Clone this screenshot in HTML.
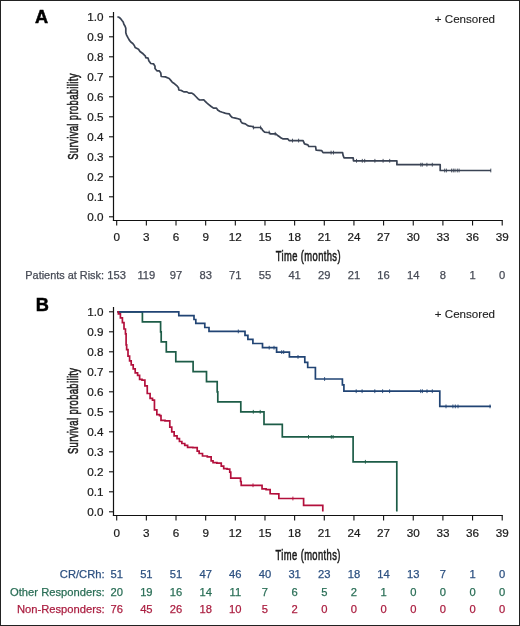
<!DOCTYPE html>
<html><head><meta charset="utf-8"><style>
html,body{margin:0;padding:0;background:#fff;}
svg{display:block;will-change:transform;}
text{font-family:"Liberation Sans", sans-serif;}
.tk{font-size:11.7px;fill:#1a1a1a;stroke:#1a1a1a;stroke-width:0.22px;}
.pl{font-size:18.2px;font-weight:bold;fill:#000;stroke:#000;stroke-width:0.5px;}
.cen{font-size:11.6px;fill:#222;stroke:#222;stroke-width:0.12px;}
.ax{font-size:14.2px;fill:#1a1a1a;stroke:#1a1a1a;stroke-width:0.55px;}
.rk{font-size:11.2px;stroke-width:0.25px;}
</style></head><body>
<svg width="520" height="626" viewBox="0 0 520 626">
<rect x="0.5" y="0.5" width="519" height="625" fill="#fff" stroke="#222" stroke-width="1"/>
<line x1="113.5" y1="12" x2="113.5" y2="221" stroke="#111" stroke-width="1.2"/>
<line x1="112.9" y1="220.5" x2="502.81" y2="220.5" stroke="#111" stroke-width="1.2"/>
<line x1="109" y1="216.8" x2="113.5" y2="216.8" stroke="#111" stroke-width="1.1"/>
<text x="103.6" y="220.8" text-anchor="end" class="tk">0.0</text>
<line x1="109" y1="196.8" x2="113.5" y2="196.8" stroke="#111" stroke-width="1.1"/>
<text x="103.6" y="200.8" text-anchor="end" class="tk">0.1</text>
<line x1="109" y1="176.8" x2="113.5" y2="176.8" stroke="#111" stroke-width="1.1"/>
<text x="103.6" y="180.8" text-anchor="end" class="tk">0.2</text>
<line x1="109" y1="156.8" x2="113.5" y2="156.8" stroke="#111" stroke-width="1.1"/>
<text x="103.6" y="160.8" text-anchor="end" class="tk">0.3</text>
<line x1="109" y1="136.8" x2="113.5" y2="136.8" stroke="#111" stroke-width="1.1"/>
<text x="103.6" y="140.8" text-anchor="end" class="tk">0.4</text>
<line x1="109" y1="116.8" x2="113.5" y2="116.8" stroke="#111" stroke-width="1.1"/>
<text x="103.6" y="120.8" text-anchor="end" class="tk">0.5</text>
<line x1="109" y1="96.8" x2="113.5" y2="96.8" stroke="#111" stroke-width="1.1"/>
<text x="103.6" y="100.8" text-anchor="end" class="tk">0.6</text>
<line x1="109" y1="76.8" x2="113.5" y2="76.8" stroke="#111" stroke-width="1.1"/>
<text x="103.6" y="80.8" text-anchor="end" class="tk">0.7</text>
<line x1="109" y1="56.8" x2="113.5" y2="56.8" stroke="#111" stroke-width="1.1"/>
<text x="103.6" y="60.8" text-anchor="end" class="tk">0.8</text>
<line x1="109" y1="36.8" x2="113.5" y2="36.8" stroke="#111" stroke-width="1.1"/>
<text x="103.6" y="40.8" text-anchor="end" class="tk">0.9</text>
<line x1="109" y1="16.8" x2="113.5" y2="16.8" stroke="#111" stroke-width="1.1"/>
<text x="103.6" y="20.8" text-anchor="end" class="tk">1.0</text>
<line x1="116.7" y1="220.5" x2="116.7" y2="225.5" stroke="#111" stroke-width="1.1"/>
<text x="116.7" y="240.8" text-anchor="middle" class="tk">0</text>
<line x1="146.36" y1="220.5" x2="146.36" y2="225.5" stroke="#111" stroke-width="1.1"/>
<text x="146.36" y="240.8" text-anchor="middle" class="tk">3</text>
<line x1="176.01" y1="220.5" x2="176.01" y2="225.5" stroke="#111" stroke-width="1.1"/>
<text x="176.01" y="240.8" text-anchor="middle" class="tk">6</text>
<line x1="205.67" y1="220.5" x2="205.67" y2="225.5" stroke="#111" stroke-width="1.1"/>
<text x="205.67" y="240.8" text-anchor="middle" class="tk">9</text>
<line x1="235.32" y1="220.5" x2="235.32" y2="225.5" stroke="#111" stroke-width="1.1"/>
<text x="235.32" y="240.8" text-anchor="middle" class="tk">12</text>
<line x1="264.98" y1="220.5" x2="264.98" y2="225.5" stroke="#111" stroke-width="1.1"/>
<text x="264.98" y="240.8" text-anchor="middle" class="tk">15</text>
<line x1="294.63" y1="220.5" x2="294.63" y2="225.5" stroke="#111" stroke-width="1.1"/>
<text x="294.63" y="240.8" text-anchor="middle" class="tk">18</text>
<line x1="324.29" y1="220.5" x2="324.29" y2="225.5" stroke="#111" stroke-width="1.1"/>
<text x="324.29" y="240.8" text-anchor="middle" class="tk">21</text>
<line x1="353.94" y1="220.5" x2="353.94" y2="225.5" stroke="#111" stroke-width="1.1"/>
<text x="353.94" y="240.8" text-anchor="middle" class="tk">24</text>
<line x1="383.59" y1="220.5" x2="383.59" y2="225.5" stroke="#111" stroke-width="1.1"/>
<text x="383.59" y="240.8" text-anchor="middle" class="tk">27</text>
<line x1="413.25" y1="220.5" x2="413.25" y2="225.5" stroke="#111" stroke-width="1.1"/>
<text x="413.25" y="240.8" text-anchor="middle" class="tk">30</text>
<line x1="442.9" y1="220.5" x2="442.9" y2="225.5" stroke="#111" stroke-width="1.1"/>
<text x="442.9" y="240.8" text-anchor="middle" class="tk">33</text>
<line x1="472.56" y1="220.5" x2="472.56" y2="225.5" stroke="#111" stroke-width="1.1"/>
<text x="472.56" y="240.8" text-anchor="middle" class="tk">36</text>
<line x1="502.21" y1="220.5" x2="502.21" y2="225.5" stroke="#111" stroke-width="1.1"/>
<text x="502.21" y="240.8" text-anchor="middle" class="tk">39</text>
<path d="M117.4 16.8 L118.9 17.3 L120.5 18.5 L122 20.5 L123.2 22 L123.9 24.3 L125.1 26.2 L125.8 28.2 L125.8 32.8 L126.6 35.1 L127.8 37.4 L129.3 40.1 L130.8 42 L132.8 43.5 L134.3 45.5 L135.1 47.4 L136.6 48.2 L138.5 49.2 L140 51.5 L143.1 53.8 L145.4 56.2 L145.8 57.7 L148.1 58.1 L148.8 60.8 L150.8 63.5 L153.5 63.8 L155 66.2 L155 68.5 L156.9 70.8 L159.2 70.8 L160.8 73.1 L161.2 76.5 L165.4 76.9 L169.2 78.5 L170.8 80.4 L172.3 82.3 L174.6 83.8 L177.3 86.2 L178.5 87.7 L178.8 90 L181.2 90.4 L182.7 91.2 L184.2 91.9 L186.9 91.9 L188.8 93.1 L191.9 93.1 L193.5 94.2 L195.8 96.5 L198.1 98.8 L199.6 100 L203.8 99.8 L205 101.2 L206.5 102.7 L208.8 104.6 L211.2 106.5 L213.5 108.1 L216.5 108.1 L217.7 110 L220 111.5 L222.3 112.3 L225 113.1 L227.3 113.7 L229.2 113.8 L230.8 116.2 L232.3 117.5 L235.4 118.1 L238.1 118.8 L240.4 119.6 L240.8 121.5 L242.3 123.1 L245.4 123.8 L247.7 125.6 L249.6 126.2 L252.7 126.5 L253.5 127.6 L255.8 127.5 L260.4 127.5 L261.9 128.8 L262.7 130.4 L264.6 132.1 L267.3 132.5 L269.2 132.5 L270.4 133.8 L275.8 133.8 L277.3 135.2 L279.2 136.5 L281.2 138.1 L282.7 138.8 L287.7 138.8 L289.1 140.6 L303.1 140.6 L304.5 143.9 L307.9 144.9 L308.8 146.5 L315.6 146.5 L316.1 150.2 L321.8 150.7 L323 152.6 L342.6 152.6 L343.1 155.4 L344 157.8 L353.2 157.8 L353.5 160.8 L396.9 160.8 L396.9 164.7 L440.2 164.7 L440.2 170.5 L491 170.5" fill="none" stroke="#3a4354" stroke-width="1.7" stroke-linejoin="round"/>
<line x1="356.5" y1="158.9" x2="356.5" y2="162.7" stroke="#3a4354" stroke-width="0.9"/>
<line x1="362.3" y1="158.9" x2="362.3" y2="162.7" stroke="#3a4354" stroke-width="0.9"/>
<line x1="364.7" y1="158.9" x2="364.7" y2="162.7" stroke="#3a4354" stroke-width="0.9"/>
<line x1="374.9" y1="158.9" x2="374.9" y2="162.7" stroke="#3a4354" stroke-width="0.9"/>
<line x1="383.1" y1="158.9" x2="383.1" y2="162.7" stroke="#3a4354" stroke-width="0.9"/>
<line x1="389.7" y1="158.9" x2="389.7" y2="162.7" stroke="#3a4354" stroke-width="0.9"/>
<line x1="331.1" y1="150.7" x2="331.1" y2="154.5" stroke="#3a4354" stroke-width="0.9"/>
<line x1="333.5" y1="150.7" x2="333.5" y2="154.5" stroke="#3a4354" stroke-width="0.9"/>
<line x1="253.4" y1="125.6" x2="253.4" y2="129.4" stroke="#3a4354" stroke-width="0.9"/>
<line x1="260.6" y1="125.6" x2="260.6" y2="129.4" stroke="#3a4354" stroke-width="0.9"/>
<line x1="269.2" y1="130.6" x2="269.2" y2="134.4" stroke="#3a4354" stroke-width="0.9"/>
<line x1="275.2" y1="131.9" x2="275.2" y2="135.7" stroke="#3a4354" stroke-width="0.9"/>
<line x1="292.5" y1="138.7" x2="292.5" y2="142.5" stroke="#3a4354" stroke-width="0.9"/>
<line x1="298.6" y1="138.7" x2="298.6" y2="142.5" stroke="#3a4354" stroke-width="0.9"/>
<line x1="420.8" y1="162.8" x2="420.8" y2="166.6" stroke="#3a4354" stroke-width="0.9"/>
<line x1="422.3" y1="162.8" x2="422.3" y2="166.6" stroke="#3a4354" stroke-width="0.9"/>
<line x1="426.9" y1="162.8" x2="426.9" y2="166.6" stroke="#3a4354" stroke-width="0.9"/>
<line x1="432.3" y1="162.8" x2="432.3" y2="166.6" stroke="#3a4354" stroke-width="0.9"/>
<line x1="444.7" y1="168.6" x2="444.7" y2="172.4" stroke="#3a4354" stroke-width="0.9"/>
<line x1="446.4" y1="168.6" x2="446.4" y2="172.4" stroke="#3a4354" stroke-width="0.9"/>
<line x1="451.6" y1="168.6" x2="451.6" y2="172.4" stroke="#3a4354" stroke-width="0.9"/>
<line x1="453.3" y1="168.6" x2="453.3" y2="172.4" stroke="#3a4354" stroke-width="0.9"/>
<line x1="455" y1="168.6" x2="455" y2="172.4" stroke="#3a4354" stroke-width="0.9"/>
<line x1="457.3" y1="168.6" x2="457.3" y2="172.4" stroke="#3a4354" stroke-width="0.9"/>
<line x1="459.1" y1="168.6" x2="459.1" y2="172.4" stroke="#3a4354" stroke-width="0.9"/>
<line x1="490.8" y1="168.6" x2="490.8" y2="172.4" stroke="#3a4354" stroke-width="0.9"/>
<text x="35" y="22.6" class="pl">A</text>
<text x="434.8" y="22.5" class="cen">+ Censored</text>
<text transform="translate(78.2 116.4) rotate(-90) scale(0.66 1)" text-anchor="middle" class="ax" letter-spacing="0.6">Survival probability</text>
<text transform="translate(275.8 260.8) scale(0.66 1)" class="ax" letter-spacing="0.6">Time (months)</text>
<text x="104" y="279.3" text-anchor="end" class="rk" style="font-size:10.9px" fill="#474b56" stroke="#474b56">Patients at Risk:</text>
<text x="116.7" y="279.3" text-anchor="middle" class="rk" fill="#474b56" stroke="#474b56">153</text>
<text x="146.36" y="279.3" text-anchor="middle" class="rk" fill="#474b56" stroke="#474b56">119</text>
<text x="176.01" y="279.3" text-anchor="middle" class="rk" fill="#474b56" stroke="#474b56">97</text>
<text x="205.67" y="279.3" text-anchor="middle" class="rk" fill="#474b56" stroke="#474b56">83</text>
<text x="235.32" y="279.3" text-anchor="middle" class="rk" fill="#474b56" stroke="#474b56">71</text>
<text x="264.98" y="279.3" text-anchor="middle" class="rk" fill="#474b56" stroke="#474b56">55</text>
<text x="294.63" y="279.3" text-anchor="middle" class="rk" fill="#474b56" stroke="#474b56">41</text>
<text x="324.29" y="279.3" text-anchor="middle" class="rk" fill="#474b56" stroke="#474b56">29</text>
<text x="353.94" y="279.3" text-anchor="middle" class="rk" fill="#474b56" stroke="#474b56">21</text>
<text x="383.59" y="279.3" text-anchor="middle" class="rk" fill="#474b56" stroke="#474b56">16</text>
<text x="413.25" y="279.3" text-anchor="middle" class="rk" fill="#474b56" stroke="#474b56">14</text>
<text x="442.9" y="279.3" text-anchor="middle" class="rk" fill="#474b56" stroke="#474b56">8</text>
<text x="472.56" y="279.3" text-anchor="middle" class="rk" fill="#474b56" stroke="#474b56">1</text>
<text x="502.21" y="279.3" text-anchor="middle" class="rk" fill="#474b56" stroke="#474b56">0</text>
<line x1="113.5" y1="307" x2="113.5" y2="516" stroke="#111" stroke-width="1.2"/>
<line x1="112.9" y1="515.5" x2="502.81" y2="515.5" stroke="#111" stroke-width="1.2"/>
<line x1="109" y1="511.8" x2="113.5" y2="511.8" stroke="#111" stroke-width="1.1"/>
<text x="103.6" y="515.8" text-anchor="end" class="tk">0.0</text>
<line x1="109" y1="491.8" x2="113.5" y2="491.8" stroke="#111" stroke-width="1.1"/>
<text x="103.6" y="495.8" text-anchor="end" class="tk">0.1</text>
<line x1="109" y1="471.8" x2="113.5" y2="471.8" stroke="#111" stroke-width="1.1"/>
<text x="103.6" y="475.8" text-anchor="end" class="tk">0.2</text>
<line x1="109" y1="451.8" x2="113.5" y2="451.8" stroke="#111" stroke-width="1.1"/>
<text x="103.6" y="455.8" text-anchor="end" class="tk">0.3</text>
<line x1="109" y1="431.8" x2="113.5" y2="431.8" stroke="#111" stroke-width="1.1"/>
<text x="103.6" y="435.8" text-anchor="end" class="tk">0.4</text>
<line x1="109" y1="411.8" x2="113.5" y2="411.8" stroke="#111" stroke-width="1.1"/>
<text x="103.6" y="415.8" text-anchor="end" class="tk">0.5</text>
<line x1="109" y1="391.8" x2="113.5" y2="391.8" stroke="#111" stroke-width="1.1"/>
<text x="103.6" y="395.8" text-anchor="end" class="tk">0.6</text>
<line x1="109" y1="371.8" x2="113.5" y2="371.8" stroke="#111" stroke-width="1.1"/>
<text x="103.6" y="375.8" text-anchor="end" class="tk">0.7</text>
<line x1="109" y1="351.8" x2="113.5" y2="351.8" stroke="#111" stroke-width="1.1"/>
<text x="103.6" y="355.8" text-anchor="end" class="tk">0.8</text>
<line x1="109" y1="331.8" x2="113.5" y2="331.8" stroke="#111" stroke-width="1.1"/>
<text x="103.6" y="335.8" text-anchor="end" class="tk">0.9</text>
<line x1="109" y1="311.8" x2="113.5" y2="311.8" stroke="#111" stroke-width="1.1"/>
<text x="103.6" y="315.8" text-anchor="end" class="tk">1.0</text>
<line x1="116.7" y1="515.5" x2="116.7" y2="520.5" stroke="#111" stroke-width="1.1"/>
<text x="116.7" y="536.6" text-anchor="middle" class="tk">0</text>
<line x1="146.36" y1="515.5" x2="146.36" y2="520.5" stroke="#111" stroke-width="1.1"/>
<text x="146.36" y="536.6" text-anchor="middle" class="tk">3</text>
<line x1="176.01" y1="515.5" x2="176.01" y2="520.5" stroke="#111" stroke-width="1.1"/>
<text x="176.01" y="536.6" text-anchor="middle" class="tk">6</text>
<line x1="205.67" y1="515.5" x2="205.67" y2="520.5" stroke="#111" stroke-width="1.1"/>
<text x="205.67" y="536.6" text-anchor="middle" class="tk">9</text>
<line x1="235.32" y1="515.5" x2="235.32" y2="520.5" stroke="#111" stroke-width="1.1"/>
<text x="235.32" y="536.6" text-anchor="middle" class="tk">12</text>
<line x1="264.98" y1="515.5" x2="264.98" y2="520.5" stroke="#111" stroke-width="1.1"/>
<text x="264.98" y="536.6" text-anchor="middle" class="tk">15</text>
<line x1="294.63" y1="515.5" x2="294.63" y2="520.5" stroke="#111" stroke-width="1.1"/>
<text x="294.63" y="536.6" text-anchor="middle" class="tk">18</text>
<line x1="324.29" y1="515.5" x2="324.29" y2="520.5" stroke="#111" stroke-width="1.1"/>
<text x="324.29" y="536.6" text-anchor="middle" class="tk">21</text>
<line x1="353.94" y1="515.5" x2="353.94" y2="520.5" stroke="#111" stroke-width="1.1"/>
<text x="353.94" y="536.6" text-anchor="middle" class="tk">24</text>
<line x1="383.59" y1="515.5" x2="383.59" y2="520.5" stroke="#111" stroke-width="1.1"/>
<text x="383.59" y="536.6" text-anchor="middle" class="tk">27</text>
<line x1="413.25" y1="515.5" x2="413.25" y2="520.5" stroke="#111" stroke-width="1.1"/>
<text x="413.25" y="536.6" text-anchor="middle" class="tk">30</text>
<line x1="442.9" y1="515.5" x2="442.9" y2="520.5" stroke="#111" stroke-width="1.1"/>
<text x="442.9" y="536.6" text-anchor="middle" class="tk">33</text>
<line x1="472.56" y1="515.5" x2="472.56" y2="520.5" stroke="#111" stroke-width="1.1"/>
<text x="472.56" y="536.6" text-anchor="middle" class="tk">36</text>
<line x1="502.21" y1="515.5" x2="502.21" y2="520.5" stroke="#111" stroke-width="1.1"/>
<text x="502.21" y="536.6" text-anchor="middle" class="tk">39</text>
<text x="35.8" y="310.9" class="pl">B</text>
<text x="434.8" y="317.6" class="cen">+ Censored</text>
<text transform="translate(78.2 410.8) rotate(-90) scale(0.66 1)" text-anchor="middle" class="ax" letter-spacing="0.6">Survival probability</text>
<text transform="translate(275.6 559.6) scale(0.66 1)" class="ax" letter-spacing="0.6">Time (months)</text>
<path d="M117.4 311.8 H142.4 V321.8 H160.6 V331.8 H161.2 V341.8 H166.3 V351.8 H175.8 V361.7 H193.1 V371.7 H206.5 V381.7 H217.2 V391.8 H217.8 V401.8 H240.8 V411.8 H264 V424.3 H282.3 V436.9 H353.1 V461.8 H396.8 V511.6" fill="none" stroke="#1d5c47" stroke-width="1.7" stroke-linejoin="miter"/>
<line x1="253.3" y1="409.9" x2="253.3" y2="413.7" stroke="#1d5c47" stroke-width="0.9"/>
<line x1="260.2" y1="409.9" x2="260.2" y2="413.7" stroke="#1d5c47" stroke-width="0.9"/>
<line x1="308.5" y1="435" x2="308.5" y2="438.8" stroke="#1d5c47" stroke-width="0.9"/>
<line x1="331.3" y1="435" x2="331.3" y2="438.8" stroke="#1d5c47" stroke-width="0.9"/>
<line x1="333.1" y1="435" x2="333.1" y2="438.8" stroke="#1d5c47" stroke-width="0.9"/>
<line x1="365.4" y1="459.9" x2="365.4" y2="463.7" stroke="#1d5c47" stroke-width="0.9"/>
<path d="M117.4 311.8 H178.8 V315.7 H194 V319.5 H195.8 V323.4 H204.8 V327.5 H209 V331.4 H245 V335.4 H247.9 V339.3 H252.9 V343.5 H262.5 V347.7 H276.6 V352.1 H289.4 V356.9 H304.8 V362.3 H307.7 V367.5 H315.4 V379 H342.4 V384.8 H343.9 V391.2 H439.8 V406.4 H491" fill="none" stroke="#214474" stroke-width="1.7" stroke-linejoin="miter"/>
<line x1="238.3" y1="329.5" x2="238.3" y2="333.3" stroke="#214474" stroke-width="0.9"/>
<line x1="269.2" y1="345.8" x2="269.2" y2="349.6" stroke="#214474" stroke-width="0.9"/>
<line x1="274" y1="345.8" x2="274" y2="349.6" stroke="#214474" stroke-width="0.9"/>
<line x1="281.7" y1="350.2" x2="281.7" y2="354" stroke="#214474" stroke-width="0.9"/>
<line x1="283.7" y1="350.2" x2="283.7" y2="354" stroke="#214474" stroke-width="0.9"/>
<line x1="298" y1="355" x2="298" y2="358.8" stroke="#214474" stroke-width="0.9"/>
<line x1="324.6" y1="377.1" x2="324.6" y2="380.9" stroke="#214474" stroke-width="0.9"/>
<line x1="356.2" y1="389.3" x2="356.2" y2="393.1" stroke="#214474" stroke-width="0.9"/>
<line x1="362.1" y1="389.3" x2="362.1" y2="393.1" stroke="#214474" stroke-width="0.9"/>
<line x1="374.8" y1="389.3" x2="374.8" y2="393.1" stroke="#214474" stroke-width="0.9"/>
<line x1="382.6" y1="389.3" x2="382.6" y2="393.1" stroke="#214474" stroke-width="0.9"/>
<line x1="389.6" y1="389.3" x2="389.6" y2="393.1" stroke="#214474" stroke-width="0.9"/>
<line x1="420.7" y1="389.3" x2="420.7" y2="393.1" stroke="#214474" stroke-width="0.9"/>
<line x1="422.4" y1="389.3" x2="422.4" y2="393.1" stroke="#214474" stroke-width="0.9"/>
<line x1="427" y1="389.3" x2="427" y2="393.1" stroke="#214474" stroke-width="0.9"/>
<line x1="432.3" y1="389.3" x2="432.3" y2="393.1" stroke="#214474" stroke-width="0.9"/>
<line x1="446" y1="404.5" x2="446" y2="408.3" stroke="#214474" stroke-width="0.9"/>
<line x1="452.9" y1="404.5" x2="452.9" y2="408.3" stroke="#214474" stroke-width="0.9"/>
<line x1="455.3" y1="404.5" x2="455.3" y2="408.3" stroke="#214474" stroke-width="0.9"/>
<line x1="458" y1="404.5" x2="458" y2="408.3" stroke="#214474" stroke-width="0.9"/>
<line x1="490" y1="404.5" x2="490" y2="408.3" stroke="#214474" stroke-width="0.9"/>
<path d="M117.5 311.8 H118.35 V313.8 H119.2 H120.4 V317.8 H121.6 H122.4 V322.6 H123.2 H124 V329 H124.8 H125.45 V333.8 H126.1 L126.1 344.9 H126.65 V349.7 H127.2 H128 V356.1 H128.8 H129.6 V360.9 H130.4 H131.2 V364.9 H132 H133.2 V368.9 H134.4 H135.2 V372.9 H136 H137.6 V375.3 H139.2 H139.6 V379.3 H140 H142 V380.1 H144 H144.9 V385.8 H145.8 H147.25 V393.5 H148.7 H150.1 V398.3 H151.5 H152.5 V400.2 H153.5 H154.45 V409.8 H155.4 H156.85 V414.6 H158.3 H159.55 V415.6 H160.8 H161 V420.4 H161.2 H165 V420.8 H168.8 H169.8 V427.1 H170.8 H171.75 V431.9 H172.7 H174.15 V435.8 H175.6 H177.05 V438.7 H178.5 H179.45 V441.5 H180.4 H181.85 V443.5 H183.3 H184.75 V445.4 H186.2 H187.6 V447.3 H189 H192.85 V447.7 H196.7 H197.2 V451.2 H197.7 H199.15 V453.5 H200.6 H202.5 V456 H204.4 H207.3 V456.9 H210.2 H211.15 V460.8 H212.1 H213.05 V462.7 H214 H216.9 V463.1 H219.8 H221.25 V466.2 H222.7 H223.7 V468.7 H224.7 H227.05 V469.2 H229.4 H229.75 V472.1 H230.1 H230.75 V478.2 H231.4 L240.2 478.2 H240.55 V481.5 H240.9 H241.2 V485.3 H241.5 L261.7 485.3 H262.05 V488.9 H262.4 H266.1 V489.6 H269.8 H270.15 V493.6 H270.5 L278.5 493.9 H278.85 V498.4 H279.2 L303.6 498.5 L303.6 505.3 L322.8 505.3 L322.8 511.6" fill="none" stroke="#b3103c" stroke-width="1.7" stroke-linejoin="miter"/>
<line x1="253" y1="483.4" x2="253" y2="487.2" stroke="#b3103c" stroke-width="0.9"/>
<line x1="292.9" y1="496.6" x2="292.9" y2="500.4" stroke="#b3103c" stroke-width="0.9"/>
<text x="104.6" y="578.0" text-anchor="end" class="rk" fill="#2c5080" stroke="#2c5080">CR/CRh:</text>
<text x="116.7" y="578.0" text-anchor="middle" class="rk" fill="#2c5080" stroke="#2c5080">51</text>
<text x="146.36" y="578.0" text-anchor="middle" class="rk" fill="#2c5080" stroke="#2c5080">51</text>
<text x="176.01" y="578.0" text-anchor="middle" class="rk" fill="#2c5080" stroke="#2c5080">51</text>
<text x="205.67" y="578.0" text-anchor="middle" class="rk" fill="#2c5080" stroke="#2c5080">47</text>
<text x="235.32" y="578.0" text-anchor="middle" class="rk" fill="#2c5080" stroke="#2c5080">46</text>
<text x="264.98" y="578.0" text-anchor="middle" class="rk" fill="#2c5080" stroke="#2c5080">40</text>
<text x="294.63" y="578.0" text-anchor="middle" class="rk" fill="#2c5080" stroke="#2c5080">31</text>
<text x="324.29" y="578.0" text-anchor="middle" class="rk" fill="#2c5080" stroke="#2c5080">23</text>
<text x="353.94" y="578.0" text-anchor="middle" class="rk" fill="#2c5080" stroke="#2c5080">18</text>
<text x="383.59" y="578.0" text-anchor="middle" class="rk" fill="#2c5080" stroke="#2c5080">14</text>
<text x="413.25" y="578.0" text-anchor="middle" class="rk" fill="#2c5080" stroke="#2c5080">13</text>
<text x="442.9" y="578.0" text-anchor="middle" class="rk" fill="#2c5080" stroke="#2c5080">7</text>
<text x="472.56" y="578.0" text-anchor="middle" class="rk" fill="#2c5080" stroke="#2c5080">1</text>
<text x="502.21" y="578.0" text-anchor="middle" class="rk" fill="#2c5080" stroke="#2c5080">0</text>
<text x="104.6" y="595.6" text-anchor="end" class="rk" fill="#2a6e56" stroke="#2a6e56">Other Responders:</text>
<text x="116.7" y="595.6" text-anchor="middle" class="rk" fill="#2a6e56" stroke="#2a6e56">20</text>
<text x="146.36" y="595.6" text-anchor="middle" class="rk" fill="#2a6e56" stroke="#2a6e56">19</text>
<text x="176.01" y="595.6" text-anchor="middle" class="rk" fill="#2a6e56" stroke="#2a6e56">16</text>
<text x="205.67" y="595.6" text-anchor="middle" class="rk" fill="#2a6e56" stroke="#2a6e56">14</text>
<text x="235.32" y="595.6" text-anchor="middle" class="rk" fill="#2a6e56" stroke="#2a6e56">11</text>
<text x="264.98" y="595.6" text-anchor="middle" class="rk" fill="#2a6e56" stroke="#2a6e56">7</text>
<text x="294.63" y="595.6" text-anchor="middle" class="rk" fill="#2a6e56" stroke="#2a6e56">6</text>
<text x="324.29" y="595.6" text-anchor="middle" class="rk" fill="#2a6e56" stroke="#2a6e56">5</text>
<text x="353.94" y="595.6" text-anchor="middle" class="rk" fill="#2a6e56" stroke="#2a6e56">2</text>
<text x="383.59" y="595.6" text-anchor="middle" class="rk" fill="#2a6e56" stroke="#2a6e56">1</text>
<text x="413.25" y="595.6" text-anchor="middle" class="rk" fill="#2a6e56" stroke="#2a6e56">0</text>
<text x="442.9" y="595.6" text-anchor="middle" class="rk" fill="#2a6e56" stroke="#2a6e56">0</text>
<text x="472.56" y="595.6" text-anchor="middle" class="rk" fill="#2a6e56" stroke="#2a6e56">0</text>
<text x="502.21" y="595.6" text-anchor="middle" class="rk" fill="#2a6e56" stroke="#2a6e56">0</text>
<text x="104.6" y="613.1" text-anchor="end" class="rk" fill="#ab1f41" stroke="#ab1f41">Non-Responders:</text>
<text x="116.7" y="613.1" text-anchor="middle" class="rk" fill="#ab1f41" stroke="#ab1f41">76</text>
<text x="146.36" y="613.1" text-anchor="middle" class="rk" fill="#ab1f41" stroke="#ab1f41">45</text>
<text x="176.01" y="613.1" text-anchor="middle" class="rk" fill="#ab1f41" stroke="#ab1f41">26</text>
<text x="205.67" y="613.1" text-anchor="middle" class="rk" fill="#ab1f41" stroke="#ab1f41">18</text>
<text x="235.32" y="613.1" text-anchor="middle" class="rk" fill="#ab1f41" stroke="#ab1f41">10</text>
<text x="264.98" y="613.1" text-anchor="middle" class="rk" fill="#ab1f41" stroke="#ab1f41">5</text>
<text x="294.63" y="613.1" text-anchor="middle" class="rk" fill="#ab1f41" stroke="#ab1f41">2</text>
<text x="324.29" y="613.1" text-anchor="middle" class="rk" fill="#ab1f41" stroke="#ab1f41">0</text>
<text x="353.94" y="613.1" text-anchor="middle" class="rk" fill="#ab1f41" stroke="#ab1f41">0</text>
<text x="383.59" y="613.1" text-anchor="middle" class="rk" fill="#ab1f41" stroke="#ab1f41">0</text>
<text x="413.25" y="613.1" text-anchor="middle" class="rk" fill="#ab1f41" stroke="#ab1f41">0</text>
<text x="442.9" y="613.1" text-anchor="middle" class="rk" fill="#ab1f41" stroke="#ab1f41">0</text>
<text x="472.56" y="613.1" text-anchor="middle" class="rk" fill="#ab1f41" stroke="#ab1f41">0</text>
<text x="502.21" y="613.1" text-anchor="middle" class="rk" fill="#ab1f41" stroke="#ab1f41">0</text>
</svg>
</body></html>
